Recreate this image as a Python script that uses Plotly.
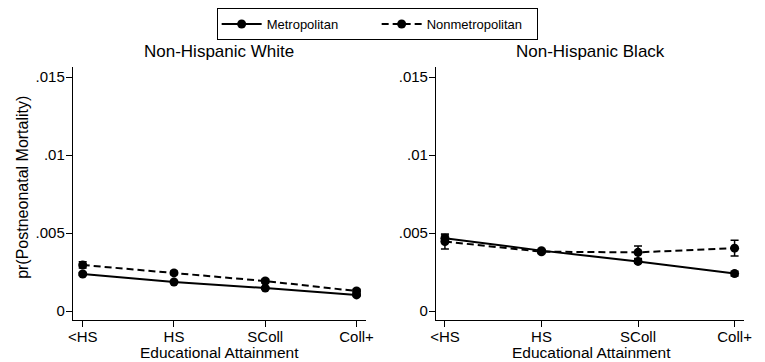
import plotly.graph_objects as go

categories = ["<HS", "HS", "SColl", "Coll+"]
series_names = ["Metropolitan", "Nonmetropolitan"]
panel_titles = ["Non-Hispanic White", "Non-Hispanic Black"]
x_title = "Educational Attainment"
y_title = "pr(Postneonatal Mortality)"

white_metro = [0.00237, 0.00186, 0.00147, 0.00103]
white_metro_err = [0.00010, 0.00006, 0.00006, 0.00006]
white_nonmetro = [0.00295, 0.00244, 0.00192, 0.00128]
white_nonmetro_err = [0.00020, 0.00010, 0.00012, 0.00012]

black_metro = [0.00467, 0.00387, 0.00318, 0.00240]
black_metro_err = [0.00020, 0.00008, 0.00010, 0.00015]
black_nonmetro = [0.00445, 0.00380, 0.00376, 0.00403]
black_nonmetro_err = [0.00048, 0.00012, 0.00040, 0.00050]

ytick_vals = [0, 0.005, 0.01, 0.015]
ytick_text = ["0", ".005", ".01", ".015"]

FONT = "Liberation Sans, Arial, sans-serif"

# page body has an 8px default margin; work in reference pixel coords
OFF = 8
W = 765 - OFF
H = 362 - OFF


def px(p):
    return (p - OFF) / W


def py(p):
    return (362 - p) / H


fig = go.Figure()

panels = [
    (white_metro, white_metro_err, white_nonmetro, white_nonmetro_err, "x", "y", True),
    (black_metro, black_metro_err, black_nonmetro, black_nonmetro_err, "x2", "y2", False),
]
xi = list(range(len(categories)))
for m, me, n, ne, xa, ya, show in panels:
    fig.add_trace(go.Scatter(
        x=xi, y=m, mode="lines+markers", name=series_names[0],
        line=dict(color="black", width=2),
        marker=dict(symbol="circle", size=9, color="black"),
        error_y=dict(type="data", array=me, color="black", thickness=1.5, width=4),
        xaxis=xa, yaxis=ya, showlegend=show, legendgroup="m"))
    fig.add_trace(go.Scatter(
        x=xi, y=n, mode="lines+markers", name=series_names[1],
        line=dict(color="black", width=2, dash="7px,4px"),
        marker=dict(symbol="circle", size=9, color="black"),
        error_y=dict(type="data", array=ne, color="black", thickness=1.5, width=4),
        xaxis=xa, yaxis=ya, showlegend=show, legendgroup="n"))

ydom = [py(320), py(67)]

axis_common = dict(showline=True, linecolor="black", linewidth=1.2, ticks="outside",
                   ticklen=6, tickwidth=1.2, tickcolor="black", showgrid=False,
                   zeroline=False, tickfont=dict(family=FONT, size=15, color="black"))

fig.update_layout(
    width=W, height=H,
    margin=dict(l=0, r=0, t=0, b=0),
    paper_bgcolor="white", plot_bgcolor="white",
    font=dict(family=FONT, color="black"),
    xaxis=dict(domain=[px(68), px(367)], range=[-0.1075, 3.1075],
               tickvals=xi, ticktext=categories, ticklabelstandoff=-3,
               anchor="y", **axis_common),
    yaxis=dict(domain=ydom, range=[-0.000577, 0.015641],
               tickvals=ytick_vals, ticktext=ytick_text, ticklabelstandoff=-2,
               anchor="x", **axis_common),
    xaxis2=dict(domain=[px(438), px(752)], range=[-0.092, 3.10],
                tickvals=xi, ticktext=categories, ticklabelstandoff=-3,
                anchor="y2", **axis_common),
    yaxis2=dict(domain=ydom, range=[-0.000577, 0.015641],
                tickvals=ytick_vals, ticktext=ytick_text, ticklabelstandoff=-2,
                anchor="x2", **axis_common),
    legend=dict(orientation="h", x=px(378), xanchor="center", y=1.0, yanchor="top",
                bordercolor="black", borderwidth=1, bgcolor="white",
                font=dict(family=FONT, size=13, color="black"),
                itemwidth=40, entrywidth=105, tracegroupgap=0),
    annotations=[
        dict(text=panel_titles[0], x=px(217), y=py(52), xref="paper", yref="paper",
             xanchor="center", yanchor="middle", showarrow=False,
             font=dict(family=FONT, size=17, color="black")),
        dict(text=panel_titles[1], x=px(595), y=py(52), xref="paper", yref="paper",
             xanchor="center", yanchor="middle", showarrow=False,
             font=dict(family=FONT, size=17, color="black")),
        dict(text=x_title, x=px(217.5), y=py(352), xref="paper", yref="paper",
             xanchor="center", yanchor="middle", showarrow=False,
             font=dict(family=FONT, size=15.5, color="black")),
        dict(text=x_title, x=px(596), y=py(352), xref="paper", yref="paper",
             xanchor="center", yanchor="middle", showarrow=False,
             font=dict(family=FONT, size=15.5, color="black")),
        dict(text=y_title, x=px(16), y=py(187), xref="paper", yref="paper",
             xanchor="center", yanchor="middle", showarrow=False, textangle=-90,
             font=dict(family=FONT, size=16, color="black")),
    ],
)

fig.write_html("out.html")
